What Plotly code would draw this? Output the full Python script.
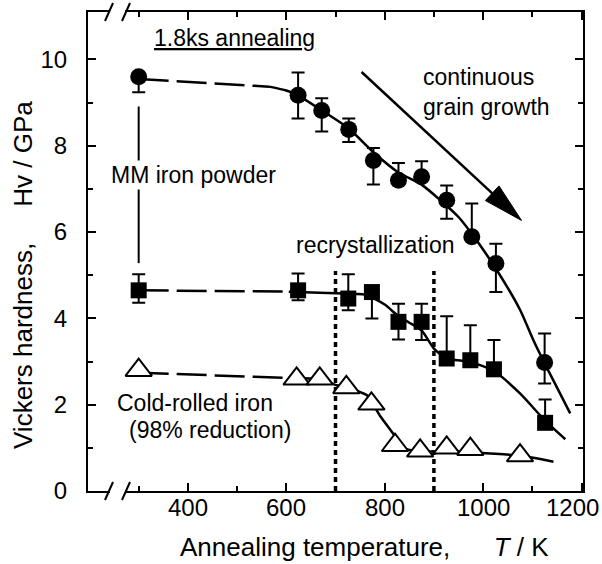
import numpy as np
import plotly.graph_objects as go

# ---------------- data ----------------
# MM iron powder (filled circles)
mm_T = [300, 624, 672, 727, 777, 828, 875, 926, 977, 1026, 1125]
mm_Hv = [9.6, 9.17, 8.82, 8.38, 7.66, 7.2, 7.28, 6.74, 5.89, 5.27, 2.98]
mm_err_up = [0.0, 0.53, 0.28, 0.25, 0.29, 0.40, 0.36, 0.34, 0.77, 0.46, 0.67]
mm_err_dn = [0.36, 0.54, 0.49, 0.29, 0.56, 0.0, 0.0, 0.43, 0.0, 0.66, 0.49]

# second MM series (filled squares)
sq_T = [300, 624, 726, 774, 828, 875, 926, 974, 1022, 1126]
sq_Hv = [4.65, 4.65, 4.46, 4.61, 3.92, 3.92, 3.07, 3.03, 2.82, 1.58]
sq_err_up = [0.37, 0.39, 0.56, 0.0, 0.42, 0.42, 0.98, 0.81, 0.68, 0.54]
sq_err_dn = [0.29, 0.23, 0.27, 0.61, 0.41, 0.42, 0.0, 0.0, 0.0, 0.0]

# Cold-rolled iron (open triangles)
cr_T = [300, 621, 668, 722, 773, 821, 872, 926, 974, 1075]
cr_Hv = [2.8, 2.6, 2.6, 2.4, 2.02, 1.06, 0.93, 1.0, 0.97, 0.82]

# fitted curves (dashed part, solid part)
mm_fit_dash_T = [300, 565]
mm_fit_dash_Hv = [9.55, 9.37]
mm_fit_T = [565, 600, 624, 672, 727, 777, 828, 875, 912, 950, 977, 1026, 1075, 1102, 1125, 1150, 1177]
mm_fit_Hv = [9.37, 9.28, 9.17, 8.82, 8.4, 7.85, 7.38, 7.1, 6.75, 6.35, 5.96, 5.15, 4.2, 3.5, 2.96, 2.4, 1.8]

sq_fit_dash_T = [300, 605]
sq_fit_dash_Hv = [4.65, 4.62]
sq_fit_T = [605, 700, 760, 800, 828, 850, 875, 900, 926, 974, 1022, 1075, 1126, 1167]
sq_fit_Hv = [4.62, 4.58, 4.55, 4.32, 4.05, 3.9, 3.72, 3.3, 3.07, 2.99, 2.78, 2.26, 1.63, 1.2]

cr_fit_dash_T = [300, 605]
cr_fit_dash_Hv = [2.74, 2.62]
cr_fit_T = [605, 668, 702, 722, 764, 790, 822, 835, 872, 900, 974, 1075, 1143]
cr_fit_Hv = [2.62, 2.6, 2.45, 2.41, 2.22, 1.75, 1.25, 1.0, 0.9, 0.92, 0.9, 0.82, 0.68]

recryst_T = [700, 900]
recryst_top = 5.1

x_ticks = [400, 600, 800, 1000, 1200]
x_minor = [300, 500, 700, 900, 1100]
y_ticks = [0, 2, 4, 6, 8, 10]
y_minor = [1, 3, 5, 7, 9]

# ---------------- layout geometry ----------------
W, H = 602, 564
ML, MR, MT, MB = 88, 19, 12, 73
PW, PH = W - ML - MR, H - MT - MB
XR = [197, 1203]
YR = [0, 11.1]
FONT = "Liberation Sans, Arial, Helvetica, sans-serif"
FS = 23
FS_TICK = 24
FS_TITLE = 26


def px2paper(px, py):
    return (px - ML) / PW, (H - MB - py) / PH


def data2px(x, y):
    return ML + (x - XR[0]) / (XR[1] - XR[0]) * PW, (H - MB) - (y - YR[0]) / (YR[1] - YR[0]) * PH


def px2data(px, py):
    return XR[0] + (px - ML) / PW * (XR[1] - XR[0]), YR[0] + ((H - MB) - py) / PH * (YR[1] - YR[0])


fig = go.Figure()

LW = 2.5
DASH = "30px,8px"

for xs, ys, dash in [
    (mm_fit_dash_T, mm_fit_dash_Hv, DASH), (mm_fit_T, mm_fit_Hv, "solid"),
    (sq_fit_dash_T, sq_fit_dash_Hv, DASH), (sq_fit_T, sq_fit_Hv, "solid"),
    (cr_fit_dash_T, cr_fit_dash_Hv, DASH),
]:
    fig.add_trace(go.Scatter(x=xs, y=ys, mode="lines",
                             line=dict(color="black", width=LW, dash=dash, shape="spline", smoothing=0.6),
                             hoverinfo="skip", showlegend=False))
fig.add_trace(go.Scatter(x=cr_fit_T, y=cr_fit_Hv, mode="lines",
                         line=dict(color="black", width=LW, shape="spline", smoothing=0.3),
                         hoverinfo="skip", showlegend=False))

err_style = dict(type="data", symmetric=False, color="black", thickness=2, width=6.5)

fig.add_trace(go.Scatter(x=mm_T, y=mm_Hv, mode="markers",
                         marker=dict(symbol="circle", size=17, color="black"),
                         error_y=dict(array=mm_err_up, arrayminus=mm_err_dn, **err_style),
                         showlegend=False))
fig.add_trace(go.Scatter(x=sq_T, y=sq_Hv, mode="markers",
                         marker=dict(symbol="square", size=16, color="black"),
                         error_y=dict(array=sq_err_up, arrayminus=sq_err_dn, **err_style),
                         showlegend=False))
fig.add_trace(go.Scatter(x=cr_T, y=cr_Hv, mode="markers",
                         marker=dict(symbol="triangle-up", size=23, color="white",
                                     line=dict(color="black", width=2)),
                         showlegend=False))

shapes = []
# recrystallization dotted lines
for t in recryst_T:
    shapes.append(dict(type="line", xref="x", yref="y", x0=t, x1=t, y0=0, y1=recryst_top,
                       line=dict(color="black", width=3.5, dash="5px,4px"), layer="below"))
# vertical line at 300 K joining the MM series
shapes.append(dict(type="line", xref="x", yref="y", x0=mm_T[0], x1=mm_T[0], y0=5.28, y1=8.91,
                   line=dict(color="black", width=2)))

# arrow "continuous grain growth"
ax0, ay0 = 753, 9.71
ax1, ay1 = 1078, 6.27
p0 = np.array(data2px(ax0, ay0))
p1 = np.array(data2px(ax1, ay1))
u = (p1 - p0) / np.linalg.norm(p1 - p0)
n = np.array([-u[1], u[0]])
base = p1 - 40 * u
c1 = base + 10 * n
c2 = base - 10 * n
sb = px2data(*(base + 2 * u))
shapes.append(dict(type="line", xref="x", yref="y", x0=ax0, y0=ay0, x1=sb[0], y1=sb[1],
                   line=dict(color="black", width=2.5)))
pts = [px2data(*p1), px2data(*c1), px2data(*c2)]
path = "M {} {} L {} {} L {} {} Z".format(pts[0][0], pts[0][1], pts[1][0], pts[1][1], pts[2][0], pts[2][1])
shapes.append(dict(type="path", xref="x", yref="y", path=path,
                   fillcolor="black", line=dict(color="black", width=1)))

# axis breaks (bottom and top)
for py in [H - MB, MT]:
    a, b = px2paper(110, py - 3)
    c, d = px2paper(125, py + 3)
    shapes.append(dict(type="rect", xref="paper", yref="paper", x0=a, x1=c, y0=b, y1=d,
                       fillcolor="white", line=dict(width=0), layer="above"))
    for cx in [109, 126]:
        xa, ya = px2paper(cx - 4, py + 9)
        xb, yb = px2paper(cx + 4, py - 9)
        shapes.append(dict(type="line", xref="paper", yref="paper", x0=xa, y0=ya, x1=xb, y1=yb,
                           line=dict(color="black", width=2), layer="above"))

annotations = []


def ann(text, px, py, xanchor="center", bg=None, size=FS, align="center"):
    x, y = px2paper(px, py)
    d = dict(text=text, x=x, y=y, xref="paper", yref="paper", showarrow=False,
             xanchor=xanchor, yanchor="middle", align=align,
             font=dict(family=FONT, size=size, color="black"))
    if bg:
        d["bgcolor"] = bg
    annotations.append(d)


NB = "\u00a0"
ann("<u>1.8ks annealing</u>", 234, 38)
ann("MM iron powder", 193, 175, bg="white")
ann("continuous<br>grain growth", 421, 92, xanchor="left", align="left")
ann("recrystallization", 375, 245)
ann("Cold-rolled iron", 195, 403)
ann("(98% reduction)", 210, 430)
ann("Annealing temperature," + NB * 6 + "<i>T</i>" + NB + "/" + NB + "K", 364, 547, size=FS_TITLE)

# x tick labels (the last one kept inside the page edge)
TICK_Y = 508
for v in x_ticks:
    px, _ = data2px(v, 0)
    if v == x_ticks[-1]:
        ann(str(v), W - 1, TICK_Y, xanchor="right", size=FS_TICK)
    else:
        ann(str(v), px, TICK_Y, size=FS_TICK)

x, y = px2paper(23, 275)
annotations.append(dict(text="Vickers hardness," + NB * 5 + "Hv / GPa", x=x, y=y, xref="paper", yref="paper",
                        showarrow=False, textangle=-90, xanchor="center", yanchor="middle",
                        font=dict(family=FONT, size=FS_TITLE, color="black")))

axis_common = dict(showline=True, linecolor="black", linewidth=2, mirror="ticks",
                   ticks="inside", ticklen=8, tickwidth=2, tickcolor="black",
                   showgrid=False, zeroline=False, automargin=False,
                   tickfont=dict(family=FONT, size=FS_TICK, color="black"))

fig.update_layout(
    width=W, height=H,
    margin=dict(l=ML, r=MR, t=MT, b=MB, pad=0, autoexpand=False),
    paper_bgcolor="white", plot_bgcolor="white",
    xaxis=dict(range=XR, tickvals=x_ticks, showticklabels=False,
               minor=dict(tickvals=x_minor, ticks="inside", ticklen=5, tickwidth=1.5, tickcolor="black"),
               **axis_common),
    yaxis=dict(range=YR, tickvals=y_ticks, ticktext=[str(v) for v in y_ticks],
               minor=dict(tickvals=y_minor, ticks="inside", ticklen=5, tickwidth=1.5, tickcolor="black"),
               ticklabelstandoff=14, **axis_common),
    shapes=shapes,
    annotations=annotations,
    showlegend=False,
)

fig.write_html("out.html")
